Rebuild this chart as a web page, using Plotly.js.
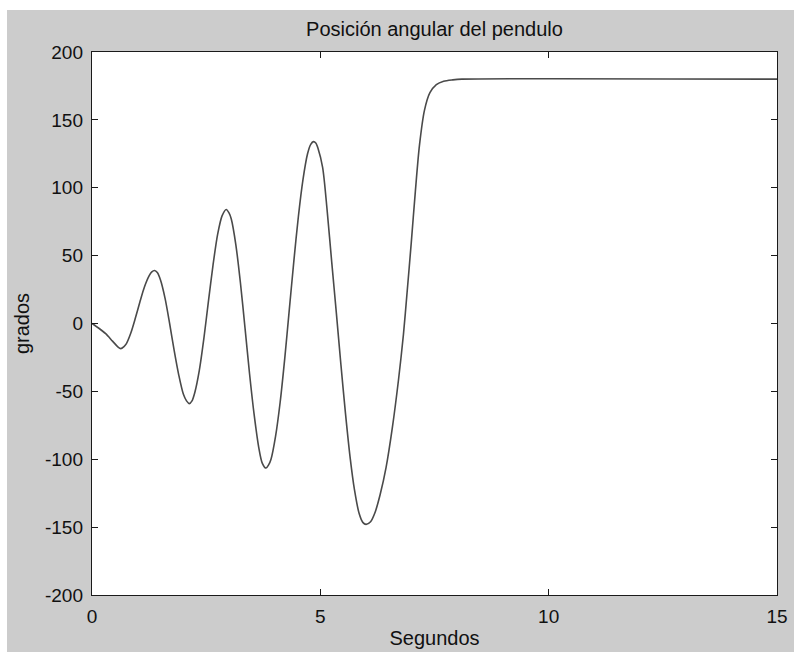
<!DOCTYPE html>
<html>
<head>
<meta charset="utf-8">
<script src="https://cdn.plot.ly/plotly-3.0.1.min.js"></script>
<style>
  html, body { margin: 0; padding: 0; background: #ffffff; width: 794px; height: 652px; overflow: hidden; }
  #chart { position: absolute; left: 7px; top: 10px; width: 787px; height: 642px; }
</style>
</head>
<body>
<div id="chart"></div>
<script>
// Time (s)
const tiempo = [
  0, 0.15, 0.3, 0.45, 0.56, 0.63, 0.7, 0.75,
  0.85, 0.95, 1.05, 1.15, 1.25, 1.31, 1.37, 1.43, 1.5, 1.6,
  1.7, 1.8, 1.9, 2.0, 2.07, 2.13, 2.19, 2.25, 2.35, 2.45,
  2.55, 2.65, 2.75, 2.85, 2.94, 3.0, 3.05, 3.15, 3.25, 3.35,
  3.45, 3.55, 3.65, 3.73, 3.81, 3.87, 3.92, 4.02, 4.12, 4.22,
  4.32, 4.42, 4.52, 4.62, 4.72, 4.79, 4.85, 4.9, 4.95, 5.05,
  5.15, 5.25, 5.35, 5.45, 5.55, 5.65, 5.75, 5.85, 5.93, 6.0,
  6.1, 6.2, 6.31, 6.44, 6.58, 6.71, 6.82, 6.9, 6.99, 7.08,
  7.17, 7.28, 7.4, 7.54, 7.7, 7.9, 8.1, 15
];
// Angle (degrees)
const angulo = [
  0, -3.5, -7.5, -13, -17, -18.5, -17, -15,
  -7, 4, 16, 27, 35, 38, 39, 37.5, 32, 18.5,
  0, -20, -38, -52, -57, -59, -57, -51, -34.5, -11,
  16.5, 43, 65.5, 79.5, 84, 81.5, 77, 58, 30, -3,
  -37, -67, -91, -103, -106.5, -104, -100, -83, -58, -26,
  10, 46, 79, 106, 125, 132, 134, 133, 129, 115,
  83, 45, 8, -30, -66, -98, -123, -140, -146.5, -148,
  -146, -139, -126, -106, -76, -42, -8, 23, 59, 97,
  131, 157, 170, 176, 178.5, 179.5, 180, 180
];
const xTicks = [0, 5, 10, 15];
const yTicks = [-200, -150, -100, -50, 0, 50, 100, 150, 200];

const FONT = 'Liberation Sans, Arial, Helvetica, sans-serif';

const trace = {
  x: tiempo,
  y: angulo,
  type: 'scatter',
  mode: 'lines',
  line: { color: '#4a4a4a', width: 1.6, shape: 'spline', smoothing: 0.8 },
  hoverinfo: 'skip'
};

const axisCommon = {
  showgrid: false,
  zeroline: false,
  showline: true,
  linecolor: '#1a1a1a',
  linewidth: 1.2,
  mirror: 'ticks',
  ticks: 'inside',
  ticklen: 6,
  tickwidth: 1.2,
  tickcolor: '#1a1a1a',
  tickfont: { family: FONT, size: 19, color: '#111111' },
  tickmode: 'array'
};

const layout = {
  width: 787,
  height: 642,
  paper_bgcolor: '#cccccc',
  plot_bgcolor: '#ffffff',
  margin: { l: 85, r: 17, t: 42, b: 57, pad: 0 },
  showlegend: false,
  font: { family: FONT, color: '#111111' },
  title: {
    text: 'Posición angular del pendulo',
    font: { family: FONT, size: 20, color: '#111111' },
    x: 0.5, xref: 'paper', xanchor: 'center',
    y: 0.9704, yref: 'container', yanchor: 'middle'
  },
  xaxis: Object.assign({}, axisCommon, {
    range: [0, 15],
    tickvals: xTicks,
    ticktext: xTicks.map(String),
    ticklabelstandoff: 4,
    title: { text: 'Segundos', font: { family: FONT, size: 20, color: '#111111' }, standoff: 5 }
  }),
  yaxis: Object.assign({}, axisCommon, {
    range: [-200, 200],
    tickvals: yTicks,
    ticktext: yTicks.map(String),
    ticklabelstandoff: 4,
    title: { text: 'grados', font: { family: FONT, size: 20, color: '#111111' }, standoff: 10 }
  })
};

Plotly.newPlot('chart', [trace], layout, { staticPlot: true, displayModeBar: false });
</script>
</body>
</html>
